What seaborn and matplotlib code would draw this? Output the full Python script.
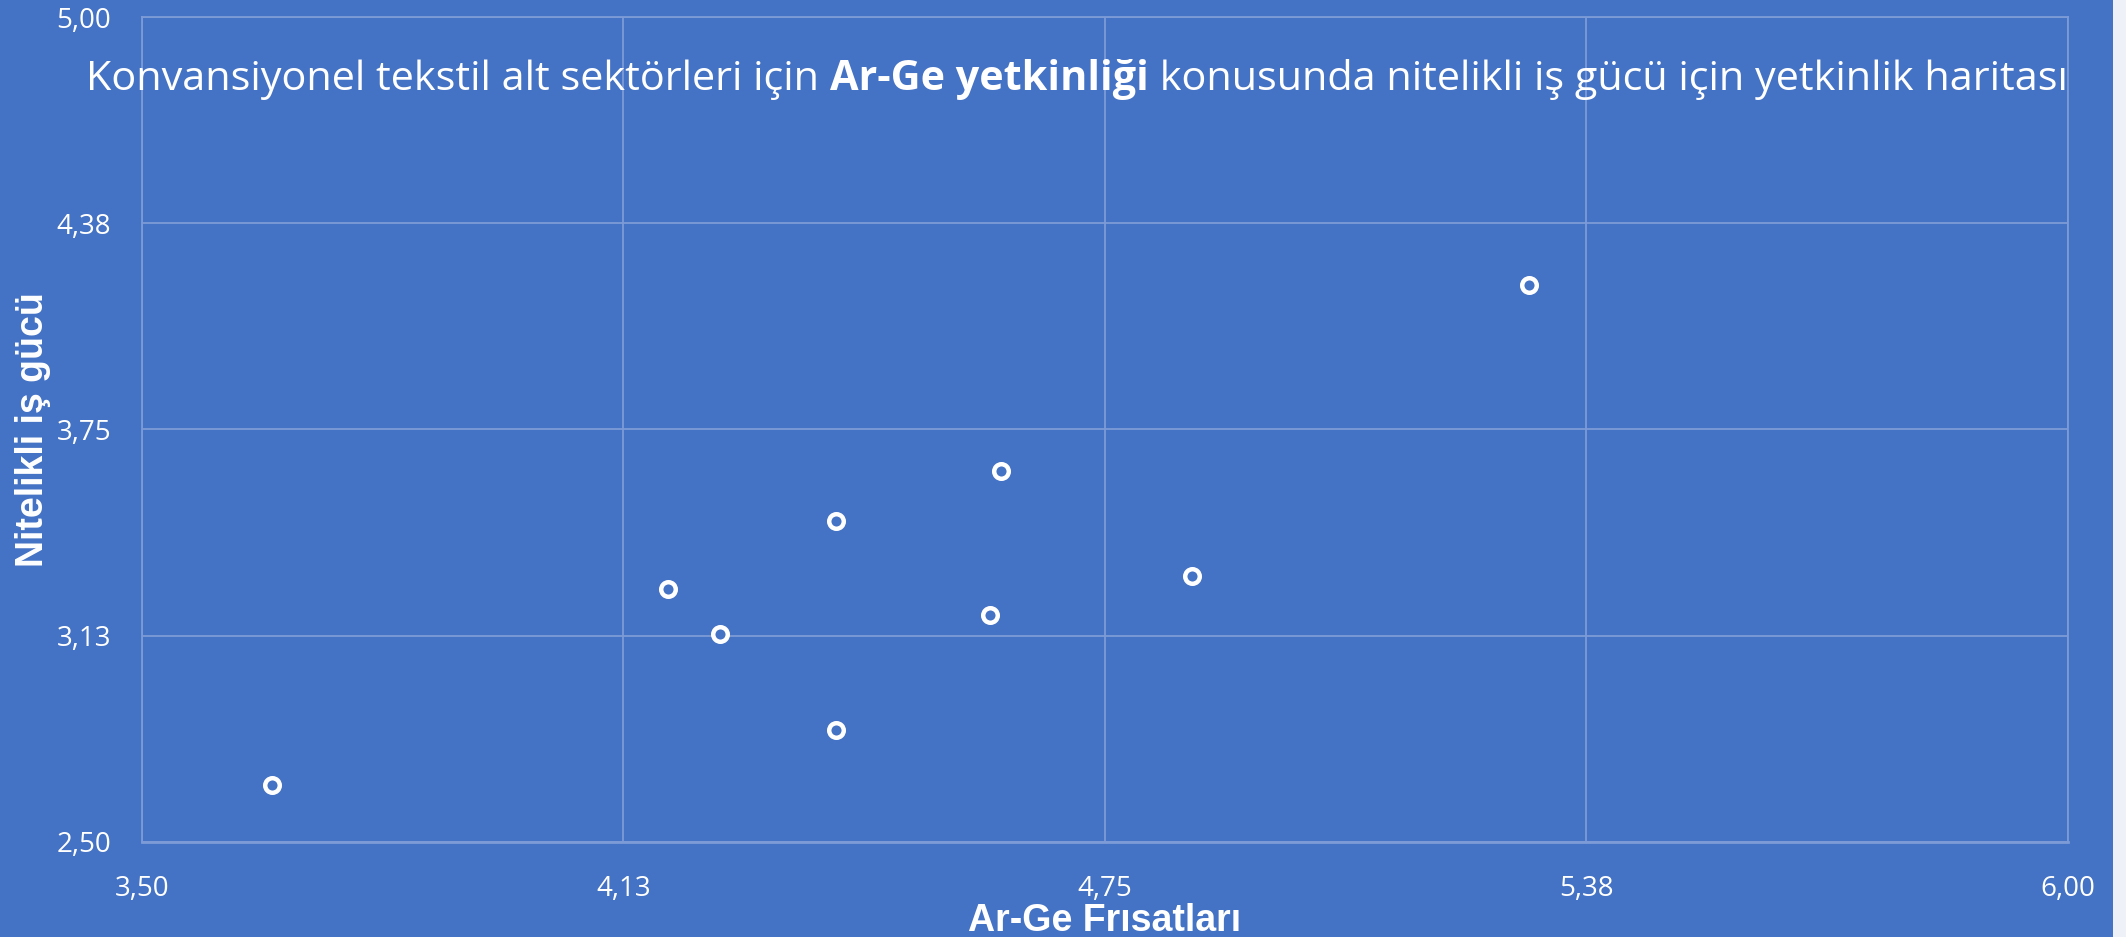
import matplotlib
matplotlib.use("Agg")
import matplotlib.pyplot as plt
from matplotlib.patches import Rectangle
import seaborn as sns
import pandas as pd

# values
arge_firsatlari = [5.300, 4.615, 4.401, 4.183, 4.251, 4.401, 4.601, 4.863, 3.669]
nitelikli_is_gucu = [4.189, 3.624, 3.472, 3.266, 3.130, 2.838, 3.188, 3.307, 2.673]
x_ticks = [3.5, 4.125, 4.75, 5.375, 6.0]
y_ticks = [2.5, 3.125, 3.75, 4.375, 5.0]
x_tick_labels = ["3,50", "4,13", "4,75", "5,38", "6,00"]
y_tick_labels = ["2,50", "3,13", "3,75", "4,38", "5,00"]
title_parts = ["Konvansiyonel tekstil alt sektörleri için ", "Ar-Ge yetkinliği",
               " konusunda nitelikli iş gücü için yetkinlik haritası"]

df = pd.DataFrame({"x": arge_firsatlari, "y": nitelikli_is_gucu})

BG = "#4472C4"
GRID = "#7d9bd6"

sns.set_theme(style="whitegrid")
plt.rcParams["font.family"] = ["Open Sans", "DejaVu Sans"]

fig = plt.figure(figsize=(21.26, 9.372), dpi=100, facecolor=BG)
# thin light strip on the right edge of the picture
fig.patches.append(Rectangle((2113 / 2126, 0), 13 / 2126, 1, transform=fig.transFigure,
                             facecolor="#eef1f7", edgecolor="none", zorder=0))

ax = fig.add_axes([0.06665, 0.1017, 0.9061, 0.8798])
ax.set_facecolor(BG)

sns.scatterplot(data=df, x="x", y="y", ax=ax, s=110, marker="o",
                facecolor=BG, edgecolor="white", linewidth=3.2, zorder=3)

ax.set_xlim(3.5, 6.0)
ax.set_ylim(2.5, 5.0)
ax.set_xticks(x_ticks)
ax.set_yticks(y_ticks)
ax.set_xticklabels(x_tick_labels, fontsize=20, color="white")
ax.set_yticklabels(y_tick_labels, fontsize=20, color="white")
ax.tick_params(axis="x", length=0, pad=24)
ax.tick_params(axis="y", length=0, pad=22)
ax.grid(True, color=GRID, linewidth=1.3)
for sp in ax.spines.values():
    sp.set_color(GRID)
    sp.set_linewidth(1.3)
ax.spines["bottom"].set_linewidth(2)

ax.set_xlabel("Ar-Ge Frısatları", fontsize=27, color="white", fontweight="bold",
              family="Liberation Sans", labelpad=0)
ax.set_ylabel("Nitelikli iş gücü", fontsize=27, color="white", fontweight="bold",
              family="Liberation Sans", labelpad=4)

# title with a bold middle part, laid out piece by piece
fig.canvas.draw()
renderer = fig.canvas.get_renderer()
weights = ["normal", "bold", "normal"]
pieces = []
for part, w in zip(title_parts, weights):
    t = fig.text(0, 1 - 90 / 937, part, fontsize=29.8, color="white", fontweight=w,
                 va="baseline", ha="left")
    pieces.append(t)
widths = [t.get_window_extent(renderer).width for t in pieces]
total = sum(widths)
x0 = (1077 - total / 2) / fig.bbox.width
for t, w in zip(pieces, widths):
    t.set_x(x0)
    x0 += w / fig.bbox.width

fig.savefig("out.png", dpi=100, facecolor=BG)
